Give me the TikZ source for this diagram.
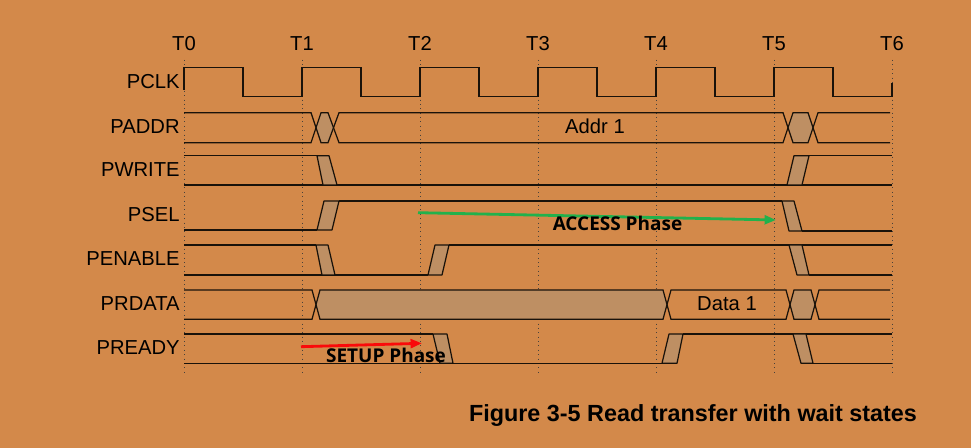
\documentclass[tikz,border=0pt]{standalone}
\usepackage{fontspec}
\setmainfont{Liberation Sans}
\newfontfamily\phasefont{Open Sans}
\usepackage{xcolor}
\usepackage{tikz}
\usetikzlibrary{arrows.meta}

\definecolor{bgorange}{RGB}{211,137,74}
\definecolor{slopetan}{RGB}{190,143,99}
\definecolor{wire}{RGB}{25,18,10}
\definecolor{arrowgreen}{RGB}{34,177,76}
\definecolor{arrowred}{RGB}{250,10,10}

\begin{document}
\begin{tikzpicture}[
          x=0.02cm, y=-0.02cm,
          every node/.style={font=\fontsize{11.5}{13}\selectfont, inner sep=0pt, anchor=base},
          sig/.style={draw=wire, line width=0.7pt},
          slope/.style={sig, fill=slopetan, line join=round},
          tickline/.style={draw=wire!80, line width=0.5pt, dotted},
          signame/.style={anchor=base east},
          phase/.style={font=\phasefont\bfseries\fontsize{10.8}{12}\selectfont},
          arrow/.style={-{Triangle[length=6.5pt,width=5pt]}, line width=1.6pt}
        ]
          % Background
          \fill[bgorange] (0,0) rectangle (971,448);
          \useasboundingbox (0,0) rectangle (971,448);

          % Time marks
          \foreach \i in {0,...,6}{
            \node (t\i) at (184+118*\i,51) {T\i};
            \draw[tickline] (184+118*\i,60) -- (184+118*\i,372);
          }

          % Signal names
          \node[signame] (pclk) at (180,88.5) {PCLK};
          \node[signame] (paddr) at (180,134) {PADDR};
          \node[signame] (pwrite) at (180,177) {PWRITE};
          \node[signame] (psel) at (180,221.5) {PSEL};
          \node[signame] (penable) at (180,266) {PENABLE};
          \node[signame] (prdata) at (180,311) {PRDATA};
          \node[signame] (pready) at (180,355) {PREADY};

          % PCLK
          \draw[sig] (184,90) \foreach \i in {0,...,5}{
            -- (184+118*\i,67.7) -- (243+118*\i,67.7)
            -- (243+118*\i,96.7) -- (302+118*\i,96.7)} -- (892,83);

          % PADDR
          \fill[slopetan] (316,127.7) -- (321,112.7) -- (328,112.7) -- (333.5,127.7)
            -- (328,142.7) -- (321,142.7) -- cycle;
          \fill[slopetan] (788,127.7) -- (793,112.7) -- (808,112.7) -- (813,127.7)
            -- (808,142.7) -- (793,142.7) -- cycle;
          \draw[sig] (184,112.7) -- (311,112.7) -- (321,142.7) -- (328,142.7) -- (339,112.7)
            -- (783,112.7) -- (793,142.7) -- (808,142.7) -- (818,112.7) -- (890,112.7);
          \draw[sig] (184,142.7) -- (311,142.7) -- (321,112.7) -- (328,112.7) -- (339,142.7)
            -- (783,142.7) -- (793,112.7) -- (808,112.7) -- (818,142.7) -- (890,142.7);
          \node (addr) at (595,134) {Addr 1};

          % PWRITE
          \draw[sig] (184,155.7) -- (317,155.7);
          \draw[sig] (184,185) -- (892,185);
          \draw[slope] (317,155.7) -- (329,155.7) -- (337,185) -- (323,185) -- cycle;
          \draw[slope] (787,185) -- (802,185) -- (809,155.7) -- (794,155.7) -- cycle;
          \draw[sig] (809,155.7) -- (892,155.7);

          % PSEL
          \draw[sig] (184,230) -- (317,230);
          \draw[slope] (317,230) -- (332,230) -- (339,201) -- (324,201) -- cycle;
          \draw[sig] (339,201) -- (782,201);
          \draw[slope] (782,201) -- (794,201) -- (802,231) -- (789,231) -- cycle;
          \draw[sig] (802,231) -- (892,231);

          % PENABLE
          \draw[sig] (184,245) -- (316,245);
          \draw[sig] (184,275) -- (428,275);
          \draw[slope] (316,245) -- (328,245) -- (335,275) -- (322,275) -- cycle;
          \draw[slope] (428,275) -- (442,275) -- (449,245) -- (435,245) -- cycle;
          \draw[sig] (449,245) -- (892,245);
          \draw[slope] (789,245) -- (802,245) -- (809,275) -- (797,275) -- cycle;
          \draw[sig] (809,275) -- (892,275);

          % PRDATA
          \fill[slopetan] (316,304.7) -- (320,290) -- (663,290) -- (667,304.7)
            -- (663,319.3) -- (320,319.3) -- cycle;
          \fill[slopetan] (790,304.7) -- (794,290) -- (811,290) -- (815,304.7)
            -- (811,319.3) -- (794,319.3) -- cycle;
          \draw[sig] (184,290) -- (312,290) -- (320,319.3) -- (663,319.3) -- (671,290)
            -- (786,290) -- (794,319.3) -- (811,319.3) -- (819,290) -- (890,290);
          \draw[sig] (184,319.3) -- (312,319.3) -- (320,290) -- (663,290) -- (671,319.3)
            -- (786,319.3) -- (794,290) -- (811,290) -- (819,319.3) -- (890,319.3);
          \node (data) at (727,311) {Data 1};

          % PREADY
          \draw[sig] (184,334) -- (433,334);
          \draw[sig] (184,363.3) -- (662,363.3);
          \draw[slope] (433,334) -- (447,334) -- (453,363.3) -- (440,363.3) -- cycle;
          \draw[slope] (662,363.3) -- (677,363.3) -- (683,334) -- (669,334) -- cycle;
          \draw[sig] (683,334) -- (892,334);
          \draw[slope] (793,334) -- (806,334) -- (813,363.3) -- (801,363.3) -- cycle;
          \draw[sig] (813,363.3) -- (892,363.3);

          % Phases
          \coordinate (accfrom) at (418,212.7);
          \coordinate (accto) at (776,220);
          \coordinate (setfrom) at (301,346.7);
          \coordinate (setto) at (422,343.3);
          \draw[arrow, arrowgreen] (accfrom) -- (accto);
          \draw[arrow, arrowred] (setfrom) -- (setto);
          \node[phase] (access) at (617.5,231) {ACCESS Phase};
          \node[phase] (setup) at (386,362.3) {SETUP Phase};

          % Caption
          \node[font=\bfseries\fontsize{13.3}{15}\selectfont] (caption) at (693,421.7)
            {Figure 3-5 Read transfer with wait states};
        \end{tikzpicture}
\end{document}
